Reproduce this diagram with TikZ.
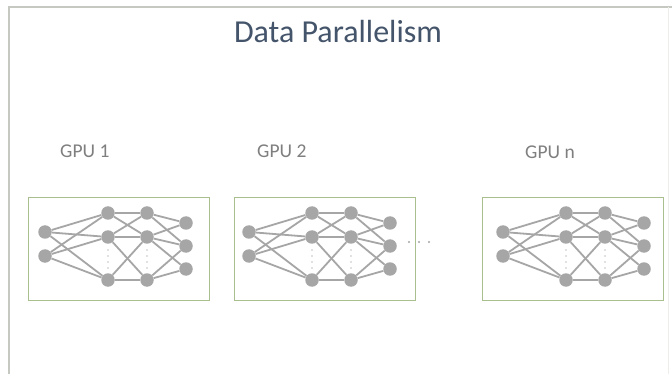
\documentclass[tikz,border=0pt]{standalone}
\usepackage{fontspec}
\setmainfont{Carlito}
\usetikzlibrary{backgrounds}

\definecolor{frameline}{HTML}{C6C9C2}
\definecolor{framefaint}{HTML}{EDEDEA}
\definecolor{boxline}{HTML}{A9BF8E}
\definecolor{neurongray}{HTML}{A6A6A6}
\definecolor{dotgray}{HTML}{C4C4C4}
\definecolor{titlecol}{HTML}{44546A}
\definecolor{labelcol}{HTML}{7F7F7F}

\tikzset{
  neuron/.style={circle, fill=neurongray, draw=none, minimum size=13.5pt, inner sep=0pt},
  synapse/.style={draw=neurongray, line width=1.8pt},
  gpubox/.style={draw=boxline, line width=1.4pt, fill=none, anchor=north west,
                 minimum width=181pt, minimum height=103pt, inner sep=0pt},
  gpulabel/.style={font=\fontsize{19.5}{22}\selectfont, text=labelcol, anchor=base west, inner sep=0pt},
  titlelabel/.style={font=\fontsize{32}{36}\selectfont, text=titlecol, anchor=base, inner sep=0pt},
}

% One small multilayer perceptron inside its GPU box.
% #1 name prefix, #2 left edge of the box, #3 x of the input layer
\newcommand\mlpnet[3]{%
  \node[gpubox] (#1-box) at (#2,197) {};
  \foreach \j/\y in {1/232,2/256}
    \node[neuron] (#1-a\j) at (#3,\y) {};
  \foreach \j/\y in {1/213,2/237,3/280}{
    \node[neuron] (#1-b\j) at (#3+63,\y) {};
    \node[neuron] (#1-c\j) at (#3+102,\y) {};
  }
  \foreach \j/\y in {1/223,2/246,3/269}
    \node[neuron] (#1-d\j) at (#3+141,\y) {};
  % vertical dots marking the omitted hidden units
  \foreach \y in {250,256,262,268}{
    \fill[dotgray] (#3+63,\y) circle (0.9pt);
    \fill[dotgray] (#3+102,\y) circle (0.9pt);
  }
  \begin{pgfonlayer}{background}
    \foreach \s in {1,2}
      \foreach \t in {1,2,3}
        \draw[synapse] (#1-a\s) -- (#1-b\t);
    \foreach \s/\t in {1/1,1/2,2/1,2/2,2/3,3/2,3/3}
      \draw[synapse] (#1-b\s) -- (#1-c\t);
    \foreach \s/\t in {1/1,1/2,2/1,2/2,2/3,3/2,3/3}
      \draw[synapse] (#1-c\s) -- (#1-d\t);
  \end{pgfonlayer}
}

\begin{document}
\begin{tikzpicture}[x=1pt,y=-1pt]
  \useasboundingbox (0,0) rectangle (672,374);
  \begin{pgfonlayer}{background}
    \fill[white] (0,0) rectangle (672,374);
  \end{pgfonlayer}

  % slide frame
  \draw[frameline, line width=1.2pt] (9,374) -- (9,7) -- (672,7);
  \draw[framefaint, line width=1pt] (668,7) -- (668,374);

  \node[titlelabel] (title) at (338,43) {Data Parallelism};

  \node[gpulabel] (lab1) at (60,158) {GPU 1};
  \node[gpulabel] (lab2) at (257,158) {GPU 2};
  \node[gpulabel] (labn) at (525,159) {GPU n};

  \mlpnet{g1}{28}{45}
  \mlpnet{g2}{234}{249}
  \mlpnet{gn}{482}{503}

  % horizontal ellipsis between the second and the last GPU
  \foreach \x in {409,419,429}
    \fill[neurongray] (\x,242) circle (1.2pt);
\end{tikzpicture}
\end{document}
